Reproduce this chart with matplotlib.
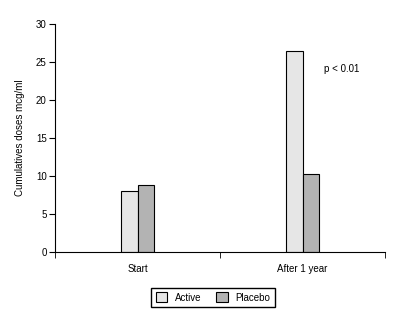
import numpy as np
import matplotlib.pyplot as plt

categories = ["Start", "After 1 year"]
active = [8.0, 26.5]
placebo = [8.8, 10.3]

plt.rcParams['font.family'] = ['Liberation Sans', 'DejaVu Sans']
plt.rcParams['font.size'] = 7

fig = plt.figure(figsize=(3.97, 3.16), dpi=100)
ax = fig.add_axes([55 / 397, 1 - 252 / 316, 330 / 397, 228 / 316])

x = np.arange(len(categories))
w = 0.1
ax.bar(x - w / 2, active, w, color="#e6e6e6", edgecolor="black", linewidth=0.8, label="Active")
ax.bar(x + w / 2, placebo, w, color="#b3b3b3", edgecolor="black", linewidth=0.8, label="Placebo")

ax.set_xlim(-0.5, 1.5)
ax.set_ylim(0, 30)
ax.set_yticks([0, 5, 10, 15, 20, 25, 30])
ax.set_xticks(x)
ax.set_xticklabels(categories)
ax.set_xticks([-0.5, 0.5, 1.5], minor=True)
ax.tick_params(axis='x', which='major', length=0, pad=9)
ax.tick_params(axis='x', which='minor', length=4, direction='out')
ax.tick_params(axis='y', length=4, direction='out', pad=2)
for s in ['top', 'right']:
    ax.spines[s].set_visible(False)
ax.set_ylabel("Cumulatives doses mcg/ml", labelpad=8)

ax.text(1.13, 24.1, "p < 0.01", ha='left', va='center')

fig.legend(loc='center', bbox_to_anchor=(213 / 397, 1 - 297.5 / 316), ncol=2,
           frameon=True, fancybox=False, edgecolor='black', framealpha=1,
           handlelength=1.2, handleheight=1.2, columnspacing=1.5, borderpad=0.5)

fig.savefig("out.png", dpi=100)
